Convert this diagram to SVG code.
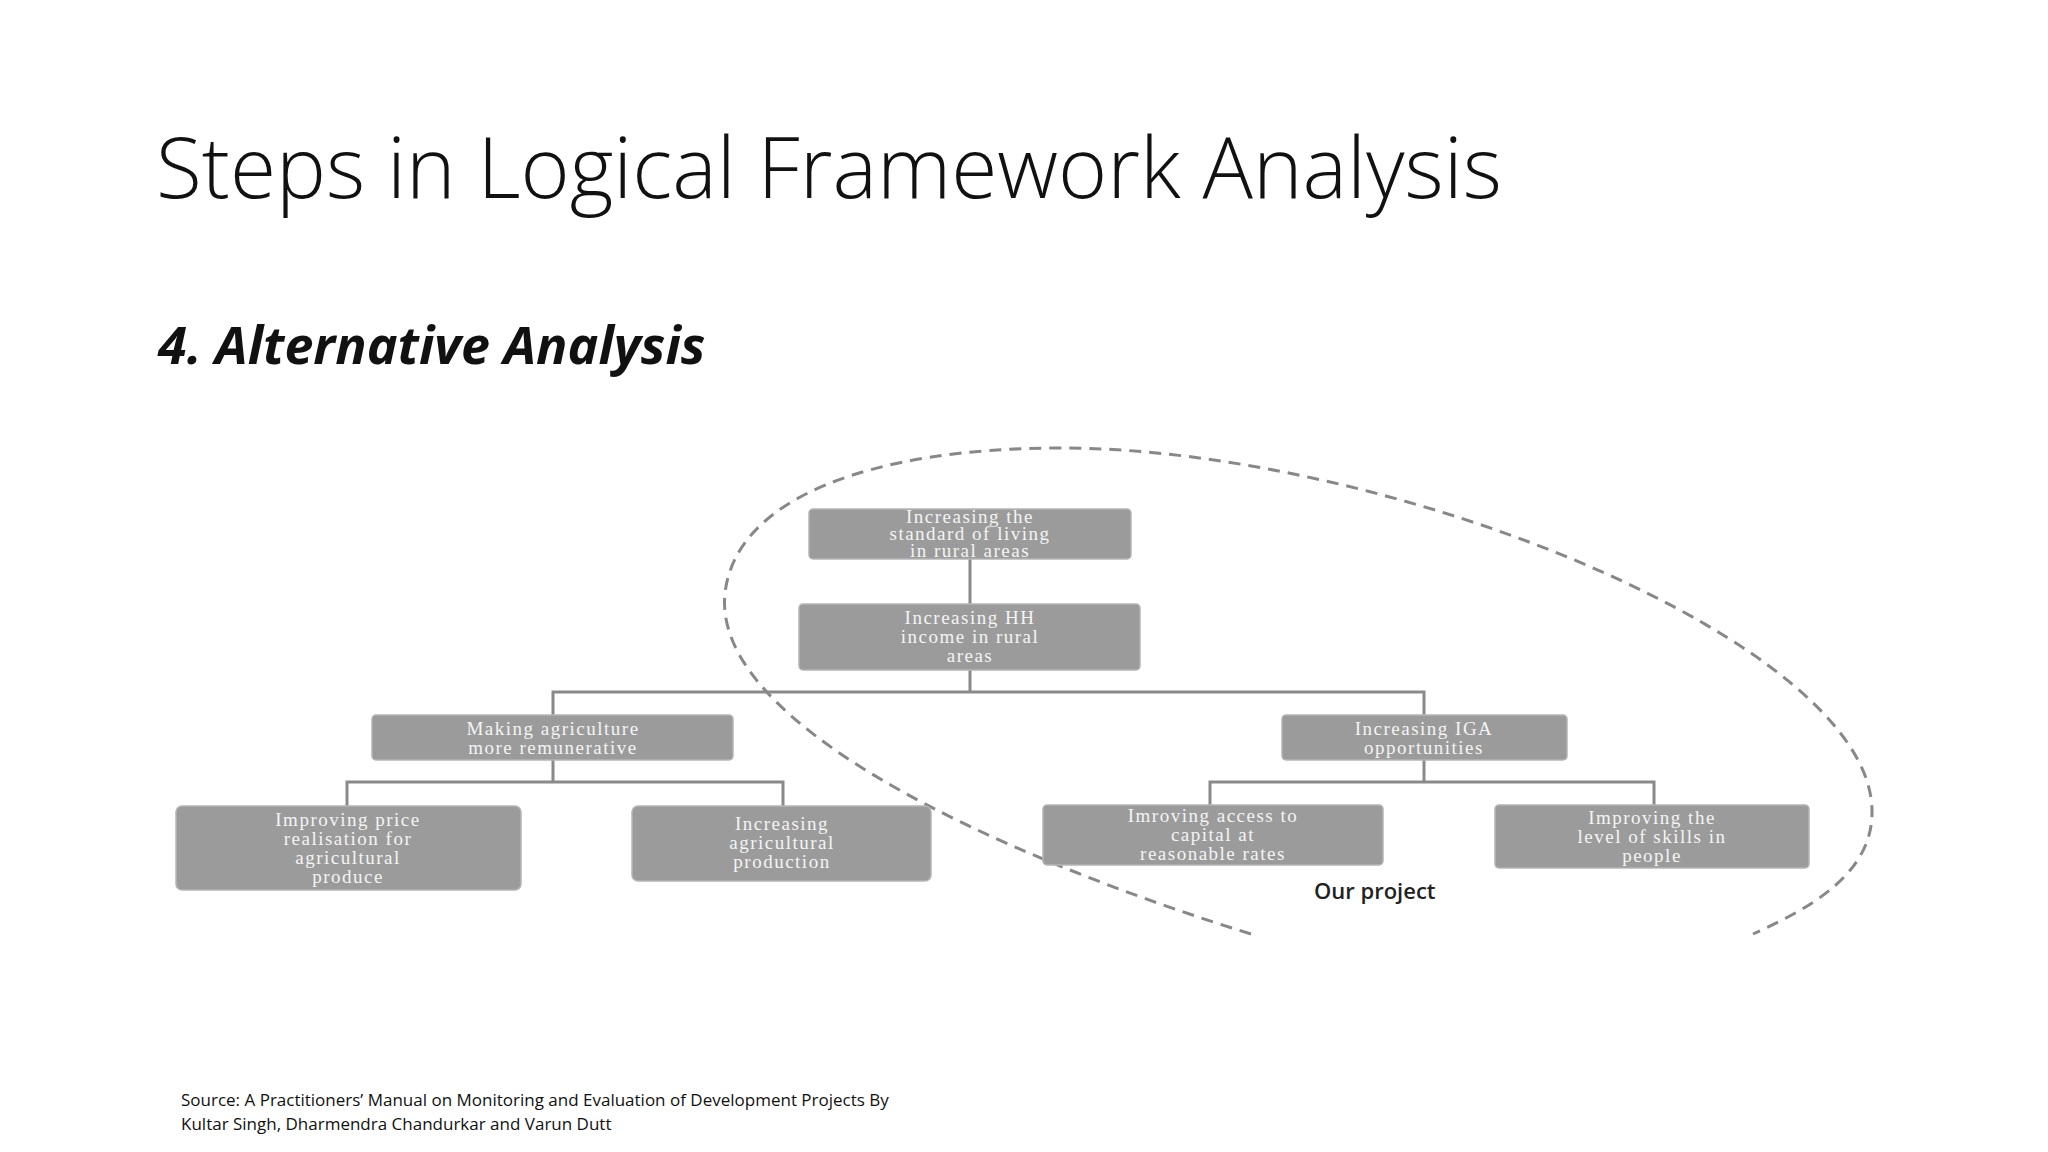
<svg xmlns="http://www.w3.org/2000/svg" width="2048" height="1152" viewBox="0 0 2048 1152">
<style>
.box{fill:#9b9b9b;stroke:#b5b5b5;stroke-width:1.5}
.bt{font-family:"Liberation Serif",serif;font-size:19px;fill:#f4f4f4;text-anchor:middle;letter-spacing:1.5px}
.ln{stroke:#8a8a8a;stroke-width:3;fill:none}
</style>
<rect width="2048" height="1152" fill="#fff"/>
<text x="156" y="198" font-family="Open Sans,Liberation Sans,sans-serif" font-size="84" font-weight="300" fill="#111">Steps in Logical Framework Analysis</text>
<text x="158" y="364" font-family="Open Sans,Liberation Sans,sans-serif" font-size="52" font-weight="bold" font-style="italic" fill="#111">4. Alternative Analysis</text>
<g transform="translate(-9,-7)">
<path d="M1260,941 C1000,860 720,730 734,600 C745,505 880,455 1069,455 C1400,455 1880,650 1881,818 C1882,880 1820,915 1762,941" fill="none" stroke="#888" stroke-width="3" stroke-dasharray="12,8"/>
<g id="connectors">
<path class="ln" d="M979,566V611M979,677V699M562,722V699H1433V722M562,767V789M356,813V789H792V813M1433,767V789M1219,812V789H1663V812"/>
</g>
<g id="n1"><rect class="box" x="818" y="516" width="322" height="50" rx="4"/><text class="bt"><tspan x="979" y="530">Increasing the</tspan><tspan x="979" y="547">standard of living</tspan><tspan x="979" y="564">in rural areas</tspan></text></g>
<g id="n2"><rect class="box" x="808" y="611" width="341" height="66" rx="4"/><text class="bt"><tspan x="979" y="631">Increasing HH</tspan><tspan x="979" y="650">income in rural</tspan><tspan x="979" y="669">areas</tspan></text></g>
<g id="n3"><rect class="box" x="381" y="722" width="361" height="45" rx="4"/><text class="bt"><tspan x="562" y="742">Making agriculture</tspan><tspan x="562" y="761">more remunerative</tspan></text></g>
<g id="n4"><rect class="box" x="1291" y="722" width="285" height="45" rx="4"/><text class="bt"><tspan x="1433" y="742">Increasing IGA</tspan><tspan x="1433" y="761">opportunities</tspan></text></g>
<g id="n5"><rect class="box" x="185" y="813" width="345" height="84" rx="6"/><text class="bt"><tspan x="357" y="833">Improving price</tspan><tspan x="357" y="852">realisation for</tspan><tspan x="357" y="871">agricultural</tspan><tspan x="357" y="890">produce</tspan></text></g>
<g id="n6"><rect class="box" x="641" y="813" width="299" height="75" rx="6"/><text class="bt"><tspan x="791" y="837">Increasing</tspan><tspan x="791" y="856">agricultural</tspan><tspan x="791" y="875">production</tspan></text></g>
<g id="n7"><rect class="box" x="1052" y="812" width="340" height="60" rx="4"/><text class="bt"><tspan x="1222" y="829">Imroving access to</tspan><tspan x="1222" y="848">capital at</tspan><tspan x="1222" y="867">reasonable rates</tspan></text></g>
<g id="n8"><rect class="box" x="1504" y="812" width="314" height="63" rx="4"/><text class="bt"><tspan x="1661" y="831">Improving the</tspan><tspan x="1661" y="850">level of skills in</tspan><tspan x="1661" y="869">people</tspan></text></g>
<text x="1323" y="906" font-family="Open Sans,Liberation Sans,sans-serif" font-size="22" font-weight="600" fill="#222">Our project</text>
</g>
<text font-family="Open Sans,Liberation Sans,sans-serif" font-size="17" fill="#111"><tspan x="181" y="1106">Source: A Practitioners’ Manual on Monitoring and Evaluation of Development Projects By</tspan><tspan x="181" y="1130">Kultar Singh, Dharmendra Chandurkar and Varun Dutt</tspan></text>
</svg>
